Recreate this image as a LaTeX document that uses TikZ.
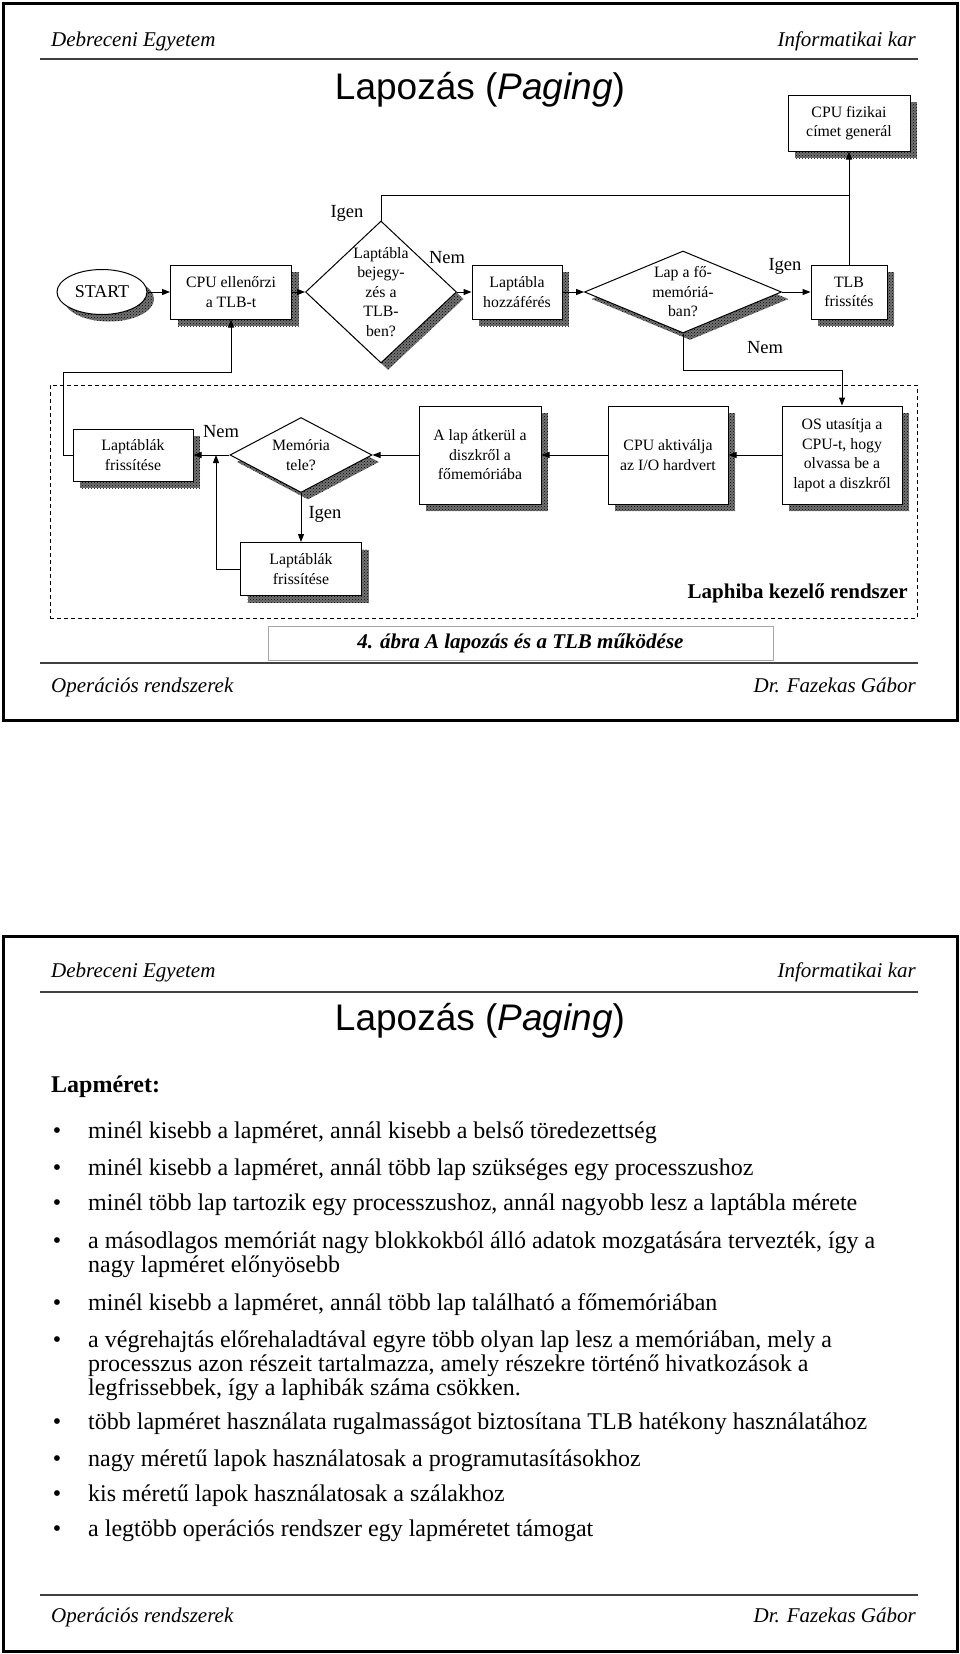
\documentclass[tikz,border=0pt]{standalone}
\usepackage{fontspec}
\setmainfont{Liberation Serif}
\newfontfamily\arialfont{Liberation Sans}
\usetikzlibrary{shapes.geometric, arrows.meta, shadows, patterns}

\begin{document}
\begin{tikzpicture}[x=1pt, y=-1pt,
    stipple/.style={general shadow={shadow xshift=7pt, shadow yshift=-7pt, fill=black!55,
                    postaction={pattern=crosshatch dots, pattern color=black}}},
    box/.style={draw, fill=white, line width=1pt, align=center, inner sep=1pt,
                stipple, font=\fontsize{15.8}{19.5}\selectfont},
    decision/.style={box, diamond, inner sep=0pt},
    arrow/.style={->, >={Triangle[length=8pt, width=6pt]}, line width=1pt},
    lbl/.style={font=\fontsize{18.5}{22}\selectfont},
    hdr/.style={font=\fontsize{21}{25}\selectfont\itshape, inner sep=0pt},
    titletext/.style={font=\arialfont\fontsize{37}{42}\selectfont},
    itemtext/.style={align=left, inner sep=0pt, font=\fontsize{24}{24.3}\selectfont},
    rule/.style={line width=2pt, black!75}
]
\path[fill=white, use as bounding box] (0,0) rectangle (960,1654);

% page 1
\draw[line width=3pt] (3,4) rectangle (957,720);
\node[hdr, anchor=base west] (uni1) at (51,47) {Debreceni Egyetem};
\node[hdr, anchor=base east] (fac1) at (916,47) {Informatikai kar};
\draw[rule] (40,59) -- (918,59);
\node[titletext] (title1) at (480,90) {Lapozás (\textit{Paging})};

\node[box, minimum width=122pt, minimum height=56pt] (cpufiz) at (849,123) {CPU fizikai\\címet generál};
\node[box, ellipse, minimum width=90pt, minimum height=45pt,
      font=\fontsize{18}{21}\selectfont] (start) at (102,292) {START};
\node[box, minimum width=121pt, minimum height=54pt] (cpuchk) at (231,292) {CPU ellenőrzi\\a TLB-t};
\node[decision, inner sep=-5pt, minimum width=151pt, minimum height=142pt] (tlbq) at (381,292)
     {Laptábla\\bejegy-\\zés a\\TLB-\\ben?};
\node[box, minimum width=90pt, minimum height=54pt] (ptacc) at (517,292) {Laptábla\\hozzáférés};
\node[decision, aspect=2.2, minimum width=197pt, minimum height=82pt] (memq) at (683,292)
     {Lap a fő-\\memóriá-\\ban?};
\node[box, minimum width=76pt, minimum height=54pt] (tlbupd) at (849,292) {TLB\\frissítés};

\node[draw, dash pattern=on 4pt off 3pt, line width=1pt, minimum width=867pt,
      minimum height=233pt, inner sep=0pt] (pfh) at (483.5,501.5) {};
\node[font=\bfseries\fontsize{21}{25}\selectfont, anchor=base east, inner sep=0pt] (pfhname)
     at (908,598) {Laphiba kezelő rendszer};

\node[box, minimum width=120pt, minimum height=98pt] (osbox) at (842,455)
     {OS utasítja a\\CPU-t, hogy\\olvassa be a\\lapot a diszkről};
\node[box, minimum width=120pt, minimum height=98pt] (ioact) at (668,455) {CPU aktiválja\\az I/O hardvert};
\node[box, minimum width=122pt, minimum height=98pt] (pagein) at (480,455)
     {A lap átkerül a\\diszkről a\\főmemóriába};
\node[decision, aspect=1.9, minimum width=142pt, minimum height=75pt] (fullq) at (301,455) {Memória\\tele?};
\node[box, minimum width=120pt, minimum height=52pt] (upd1) at (133,455) {Laptáblák\\frissítése};
\node[box, minimum width=121pt, minimum height=53pt] (upd2) at (301,569) {Laptáblák\\frissítése};

\node[draw=black!35, line width=0.8pt, minimum width=505pt, minimum height=34pt,
      font=\bfseries\itshape\fontsize{21}{25}\selectfont] (caption) at (520.5,643)
     {4. ábra A lapozás és a TLB működése};

\coordinate (yesjoin) at (849,195);
\coordinate (nemturn) at (842,370);
\coordinate (merge) at (216,455);
\coordinate (backturn) at (63,372);

\draw[arrow] (start) -- (cpuchk);
\draw[arrow] (cpuchk) -- (tlbq);
\draw[arrow] (tlbq) -- (ptacc);
\draw[arrow] (ptacc) -- (memq);
\draw[arrow] (memq) -- (tlbupd);
\draw[arrow] (tlbupd) -- (cpufiz);
\draw[line width=1pt] (tlbq.north) |- (yesjoin);
\draw[arrow] (memq.south) |- (nemturn) -- (osbox.north);
\foreach \a/\b in {osbox/ioact, ioact/pagein, pagein/fullq, fullq/upd1, fullq/upd2}
    \draw[arrow] (\a) -- (\b);
\draw[arrow] (upd2.west) -| (merge);
\draw[arrow] (upd1.west) -| (backturn) -| (cpuchk.south);

\node[lbl] (yes1) at (347,213) {Igen};
\node[lbl] (no1) at (447,258) {Nem};
\node[lbl] (yes2) at (785,266) {Igen};
\node[lbl] (no2) at (765,348) {Nem};
\node[lbl] (no3) at (221,432) {Nem};
\node[lbl] (yes3) at (325,514) {Igen};

\draw[rule] (40,663) -- (918,663);
\node[hdr, anchor=base west] (course1) at (51,692) {Operációs rendszerek};
\node[hdr, anchor=base east] (author1) at (916,692) {Dr. Fazekas Gábor};

% page 2
\draw[line width=3pt] (3,936) rectangle (957,1651);
\node[hdr, anchor=base west] (uni2) at (51,977) {Debreceni Egyetem};
\node[hdr, anchor=base east] (fac2) at (916,977) {Informatikai kar};
\draw[rule] (40,992) -- (918,992);
\node[titletext] (title2) at (480,1021) {Lapozás (\textit{Paging})};
\node[font=\bfseries\fontsize{24}{26}\selectfont, anchor=base west, inner sep=0pt] (lapmeret)
     at (51,1092) {Lapméret:};

\foreach \yy/\n/\txt [count=\i] in {
    1138/1/{minél kisebb a lapméret, annál kisebb a belső töredezettség},
    1175/1/{minél kisebb a lapméret, annál több lap szükséges egy processzushoz},
    1210/1/{minél több lap tartozik egy processzushoz, annál nagyobb lesz a laptábla mérete},
    1248/2/{a másodlagos memóriát nagy blokkokból álló adatok mozgatására tervezték, így a\\nagy lapméret előnyösebb},
    1310/1/{minél kisebb a lapméret, annál több lap található a főmemóriában},
    1347/3/{a végrehajtás előrehaladtával egyre több olyan lap lesz a memóriában, mely a\\processzus azon részeit tartalmazza, amely részekre történő hivatkozások a\\legfrissebbek, így a laphibák száma csökken.},
    1429/1/{több lapméret használata rugalmasságot biztosítana TLB hatékony használatához},
    1466/1/{nagy méretű lapok használatosak a programutasításokhoz},
    1501/1/{kis méretű lapok használatosak a szálakhoz},
    1536/1/{a legtöbb operációs rendszer egy lapméretet támogat}} {
    \node[itemtext, anchor=base] (bul\i) at (57,\yy) {\textbullet};
    \node[itemtext, anchor=base west] (itm\i) at (88,{\yy+(\n-1)*24.3}) {\txt};
}

\draw[rule] (40,1595) -- (918,1595);
\node[hdr, anchor=base west] (course2) at (51,1622) {Operációs rendszerek};
\node[hdr, anchor=base east] (author2) at (916,1622) {Dr. Fazekas Gábor};
\end{tikzpicture}
\end{document}
